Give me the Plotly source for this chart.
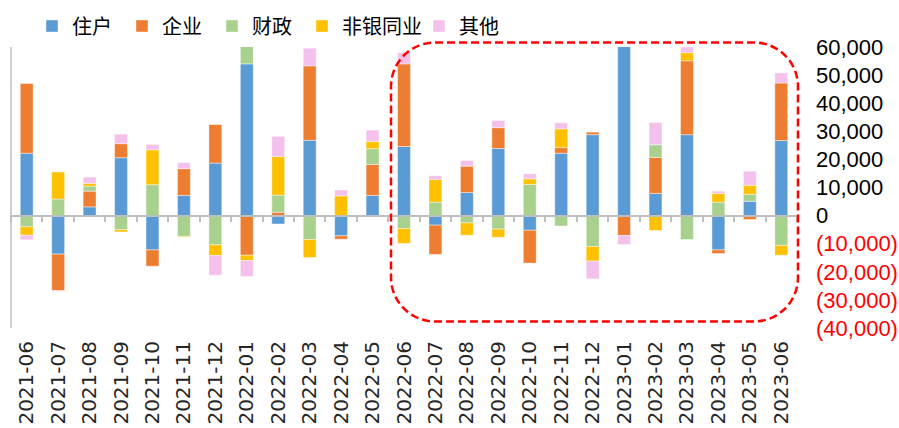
import plotly.graph_objects as go

months = ['2021-06', '2021-07', '2021-08', '2021-09', '2021-10', '2021-11', '2021-12',
          '2022-01', '2022-02', '2022-03', '2022-04', '2022-05', '2022-06', '2022-07',
          '2022-08', '2022-09', '2022-10', '2022-11', '2022-12', '2023-01', '2023-02',
          '2023-03', '2023-04', '2023-05', '2023-06']

household = [22200, -13700, 3100, 20600, -12200, 7200, 18700, 54000, -3000, 26800, -7200, 7200,
             24600, -3400, 8200, 23900, -5200, 22200, 28800, 62000, 7900, 28800, -12200, 5100, 26700]
corporate = [24800, -13000, 5600, 5000, -5800, 9500, 13700, -14100, 1200, 26500, -1200, 11000,
             29400, -10400, 9400, 7400, -11700, 2000, 900, -7100, 12800, 26300, -1300, -1400, 20500]
fiscal = [-4000, 5900, 1800, -5000, 11000, -7400, -10400, 6500, 6100, -8500, 0, 5600,
          -4600, 4800, -2600, -4800, 11100, -3700, -11000, 0, 4500, -8500, 4800, 2500, -10600]
nonbank = [-3000, 9600, 1000, -800, 12400, -250, -3800, -1900, 13700, -6400, 7000, 2600,
           -5300, 8100, -4400, -2900, 2000, 6700, -5200, 0, -5300, 2900, 3100, 3200, -3500]
other = [-1600, -300, 2200, 3400, 1900, 2100, -7000, -5700, 7200, 6300, 2100, 4000,
         4000, 1300, 2000, 2500, 1800, 2100, -6300, -3200, 7900, 2000, 800, 5000, 3600]

series_names = ['住户', '企业', '财政', '非银同业', '其他']
series_values = [household, corporate, fiscal, nonbank, other]
series_colors = ['#5B9BD5', '#ED7D31', '#A9D18E', '#FFC000', '#F4C1ED']

y_ticks = [-40000, -30000, -20000, -10000, 0, 10000, 20000, 30000, 40000, 50000, 60000]


def fmt_tick(v):
    if v < 0:
        return "<span style='color:#FF0000'>(" + f"{-v:,}" + ")</span>"
    return f"{v:,}"


y_ticktext = [fmt_tick(v) for v in y_ticks]

L_M, R_M, T_M, B_M = 11, 102, 47, 100
W, H = 899, 428
PW, PH = W - L_M - R_M, H - T_M - B_M

# legend entry left positions (px) - one legend box per series
legend_px = [32, 122, 212, 302, 419]
legend_keys = ['legend', 'legend2', 'legend3', 'legend4', 'legend5']

fig = go.Figure()
for name, vals, col, lk in zip(series_names, series_values, series_colors, legend_keys):
    fig.add_trace(go.Bar(x=months, y=vals, name=name, width=0.41, legend=lk,
                         marker=dict(color=col, line=dict(color='rgba(255,255,255,0.7)', width=0.6))))

# helper trace for the zero-line axis with ticks
fig.add_trace(go.Scatter(x=months, y=[None] * len(months), xaxis='x2', showlegend=False,
                         hoverinfo='skip', mode='markers'))


def px_x(p):
    return (p - L_M) / PW


def px_y(p):
    return (H - B_M - p) / PH


# rounded dashed rectangle (pixel geometry -> paper)
Lx, Rx, Ty, By, r = 391, 798, 42.5, 321.5, 44
k = 0.45
path = (f"M {px_x(Lx + r)} {px_y(Ty)} L {px_x(Rx - r)} {px_y(Ty)} "
        f"C {px_x(Rx - r * k)} {px_y(Ty)} {px_x(Rx)} {px_y(Ty + r * k)} {px_x(Rx)} {px_y(Ty + r)} "
        f"L {px_x(Rx)} {px_y(By - r)} "
        f"C {px_x(Rx)} {px_y(By - r * k)} {px_x(Rx - r * k)} {px_y(By)} {px_x(Rx - r)} {px_y(By)} "
        f"L {px_x(Lx + r)} {px_y(By)} "
        f"C {px_x(Lx + r * k)} {px_y(By)} {px_x(Lx)} {px_y(By - r * k)} {px_x(Lx)} {px_y(By - r)} "
        f"L {px_x(Lx)} {px_y(Ty + r)} "
        f"C {px_x(Lx)} {px_y(Ty + r * k)} {px_x(Lx + r * k)} {px_y(Ty)} {px_x(Lx + r)} {px_y(Ty)} Z")

fig.add_shape(type='path', path=path, xref='paper', yref='paper',
              line=dict(color='#FF0000', width=2.5, dash='8px,4px'), layer='above')
fig.add_shape(type='line', xref='paper', yref='paper', x0=0, x1=0, y0=0, y1=1,
              line=dict(color='#BFBFBF', width=1.5))

zero_pos = (0 - y_ticks[0]) / (y_ticks[-1] - y_ticks[0])

legend_common = dict(orientation='h', xref='container', yref='container', y=1 - 26 / H,
                     xanchor='left', yanchor='middle', bgcolor='rgba(0,0,0,0)',
                     font=dict(family='Noto Sans CJK SC', size=20, color='#000000'))
legends = {lk: dict(legend_common, x=lx / W) for lk, lx in zip(legend_keys, legend_px)}

fig.update_layout(
    width=W, height=H,
    margin=dict(l=L_M, r=R_M, t=T_M, b=B_M, autoexpand=False),
    barmode='relative',
    plot_bgcolor='white', paper_bgcolor='white',
    showlegend=True,
    xaxis=dict(type='category', categoryorder='array', categoryarray=months,
               range=[-0.5, len(months) - 0.5], showgrid=False, zeroline=False, showline=False,
               ticks='', tickangle=-90, ticklabelstandoff=8,
               tickfont=dict(family='DejaVu Sans', size=20, color='#262626')),
    xaxis2=dict(type='category', categoryorder='array', categoryarray=months,
                range=[-0.5, len(months) - 0.5], overlaying='x', anchor='free', position=zero_pos,
                side='bottom', showline=True, linecolor='#BFBFBF', linewidth=1.5,
                ticks='outside', ticklen=6, tickcolor='#BFBFBF', tickwidth=1.5,
                tickson='boundaries', showticklabels=False, showgrid=False, zeroline=False),
    yaxis=dict(side='right', range=[y_ticks[0], y_ticks[-1]], tickvals=y_ticks, ticktext=y_ticktext,
               showgrid=False, zeroline=False, showline=False, ticks='', ticklabelstandoff=18,
               tickfont=dict(family='Liberation Sans', size=22, color='#000000')),
    **legends,
)

fig.write_html('out.html')
